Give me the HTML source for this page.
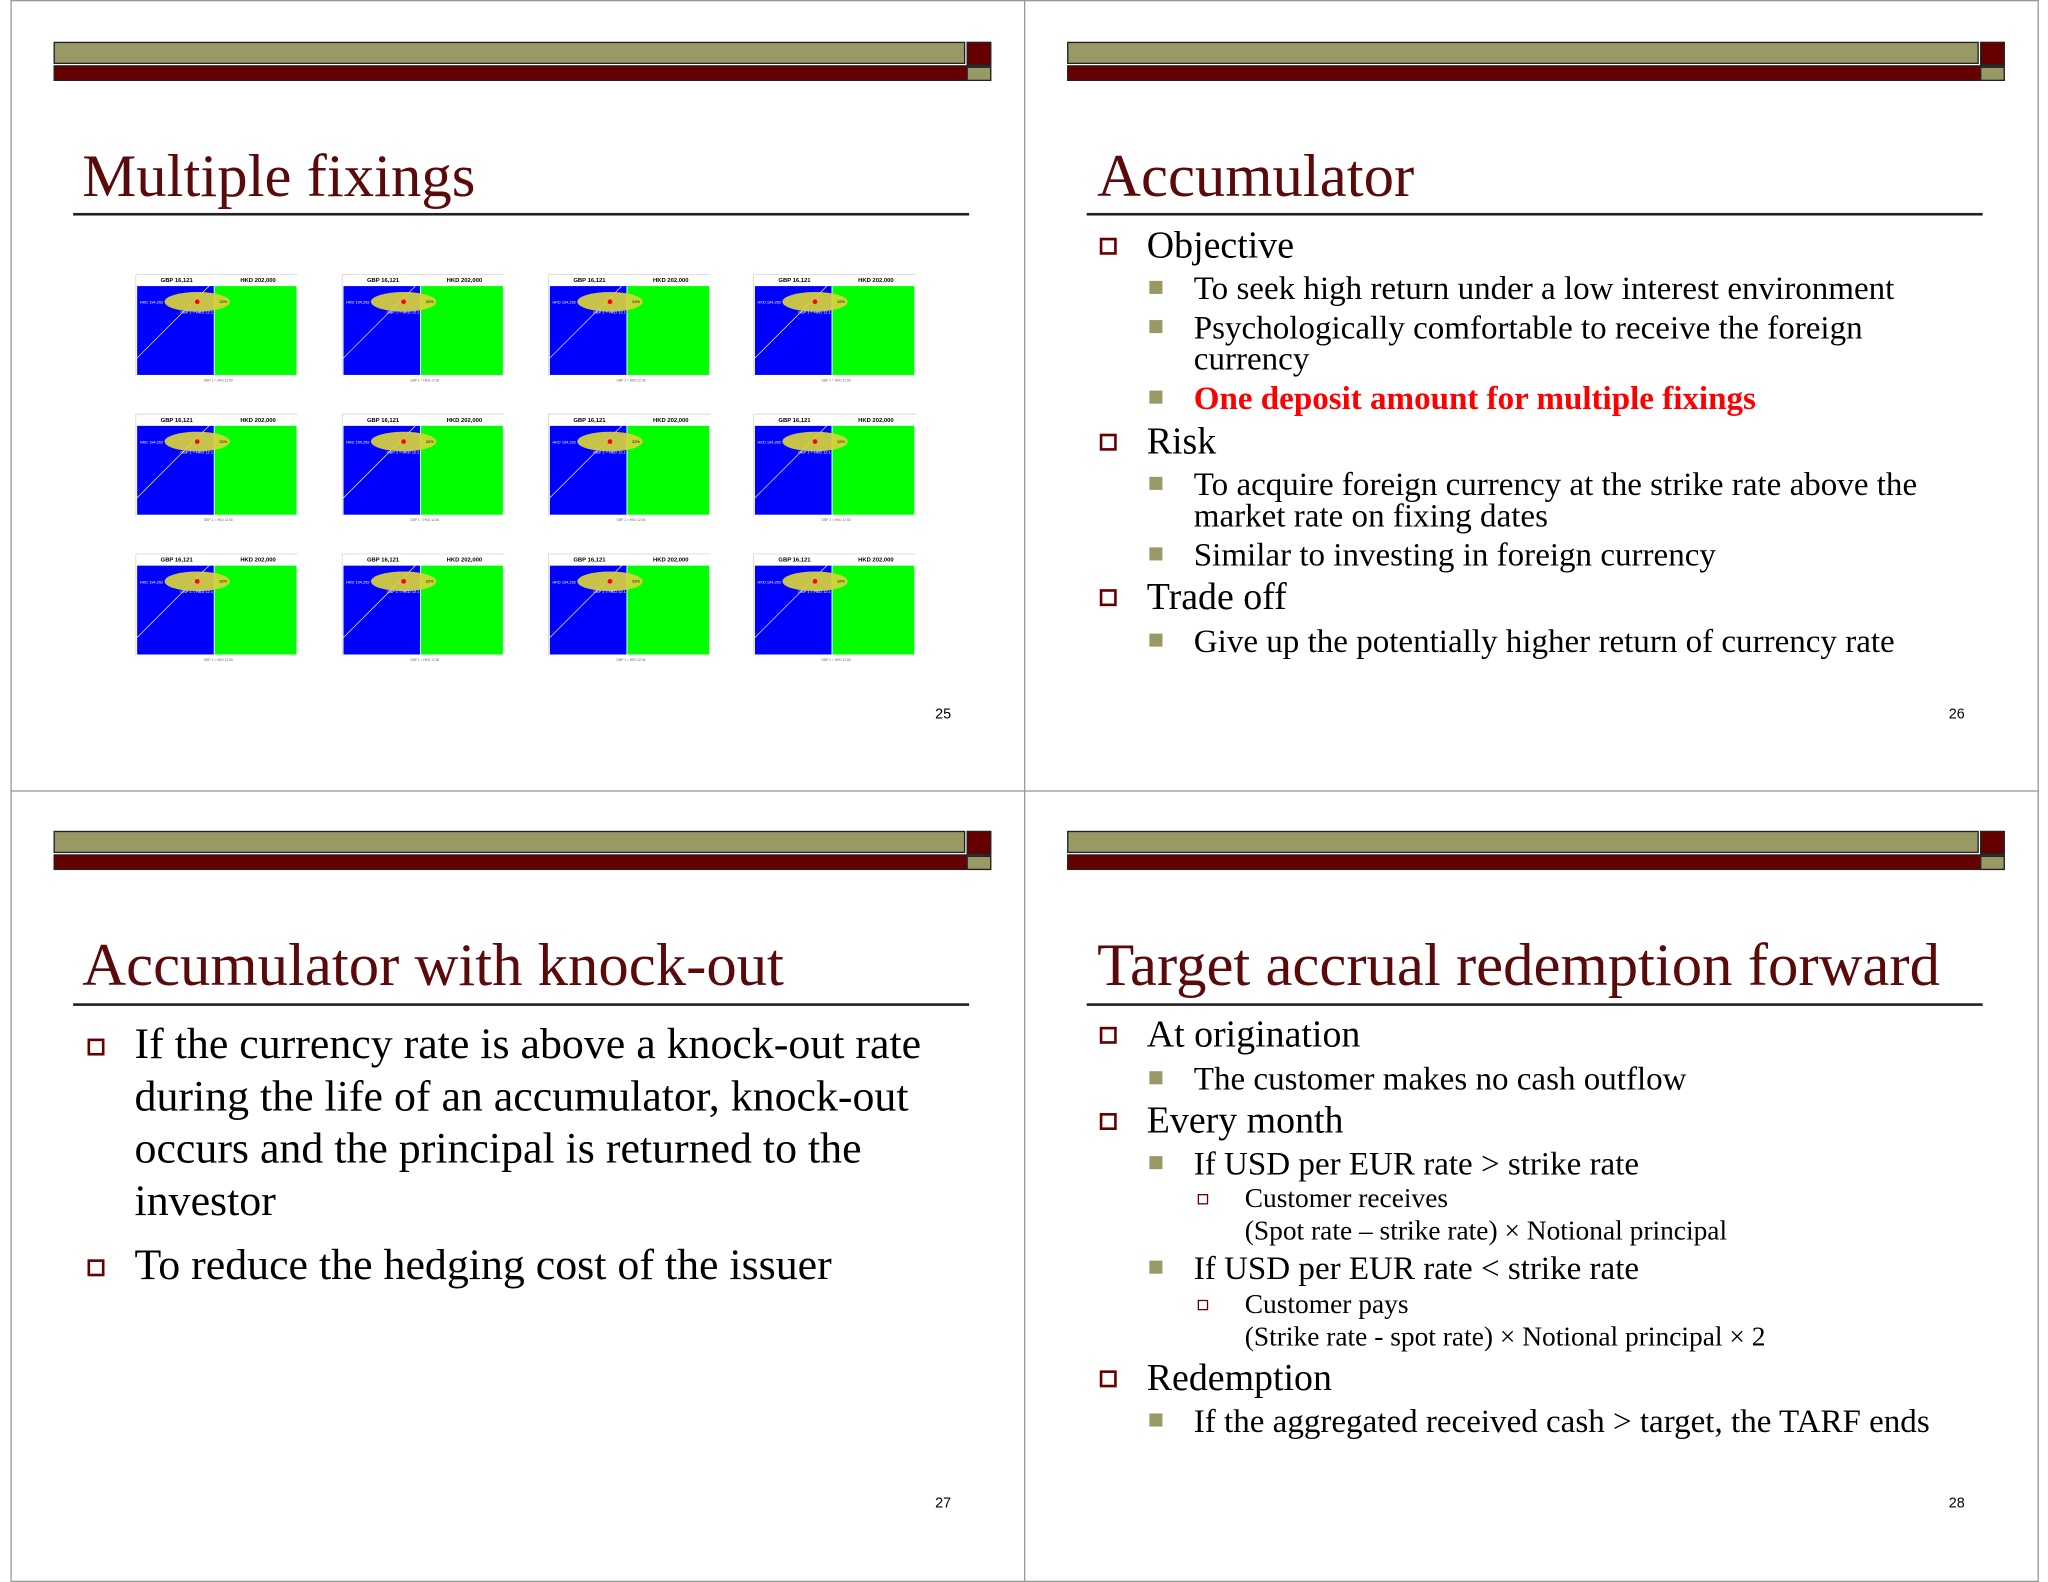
<!DOCTYPE html>
<html><head><meta charset="utf-8"><style>
html,body{margin:0;padding:0;background:#fff;}
body{width:2048px;height:1582px;overflow:hidden;position:relative;}
#st{position:absolute;left:0;top:0;width:1568px;height:1211px;transform-origin:0 0;transform:scale(1.30612,1.30636);font-family:"Liberation Serif",serif;color:#000;}
.a{position:absolute;white-space:nowrap;line-height:1;}
.ln{position:absolute;background:#999;}
.hb{position:absolute;width:718px;height:30px;}
.hb .o{position:absolute;left:0;top:0;width:698px;height:17px;background:#999966;border:1px solid #222;box-sizing:border-box;}
.hb .r{position:absolute;left:0;top:18px;width:718px;height:12px;background:#660000;border:1px solid #222;box-sizing:border-box;}
.hb .rs{position:absolute;left:699px;top:0;width:19px;height:18px;background:#660000;border:1px solid #222;box-sizing:border-box;}
.hb .os{position:absolute;left:699px;top:19px;width:19px;height:11px;background:#999966;border:1px solid #222;box-sizing:border-box;}
.t{position:absolute;font-size:46.5px;color:#5a0a0a;line-height:1;white-space:nowrap;}
.ul{position:absolute;height:1.5px;background:#222;width:686px;}
.b1{position:absolute;width:9px;height:9px;border:2px solid #660000;background:#fff;}
.b2{position:absolute;width:10px;height:10px;background:#999966;}
.b3{position:absolute;width:6px;height:6px;border:1.5px solid #660000;background:#fff;}
.f29{font-size:29px;margin-top:3px;}.f24{font-size:25.3px;margin-top:3px;}.f32{font-size:33.6px;margin-top:1px;}.f20{font-size:21px;margin-top:2px;}
.pn{position:absolute;font-family:"Liberation Sans",sans-serif;font-size:11px;}
svg.c{position:absolute;width:130px;height:95px;}
</style></head><body><div id="st">
<div class="ln" style="left:8px;top:0;width:1553px;height:1px"></div>
<div class="ln" style="left:8px;top:605px;width:1553px;height:1px"></div>
<div class="ln" style="left:8px;top:1210px;width:1553px;height:1px"></div>
<div class="ln" style="left:8px;top:0;width:1px;height:1211px"></div>
<div class="ln" style="left:784px;top:0;width:1px;height:1211px"></div>
<div class="ln" style="left:1560px;top:0;width:1px;height:1211px"></div>

<div class="hb" style="left:41px;top:32px"><div class="o"></div><div class="r"></div><div class="rs"></div><div class="os"></div></div>
<div class="hb" style="left:817px;top:32px"><div class="o"></div><div class="r"></div><div class="rs"></div><div class="os"></div></div>
<div class="hb" style="left:41px;top:636px"><div class="o"></div><div class="r"></div><div class="rs"></div><div class="os"></div></div>
<div class="hb" style="left:817px;top:636px"><div class="o"></div><div class="r"></div><div class="rs"></div><div class="os"></div></div>

<div class="t" style="left:63px;top:113px">Multiple fixings</div>
<div class="ul" style="left:56px;top:163px"></div>
<div class="pn" style="left:716px;top:541px">25</div>

<svg class="c" style="left:98px;top:208px" viewBox="0 0 130 95"><line x1="6" y1="2" x2="130" y2="2" stroke="#ccc" stroke-width=".5"/><line x1="6" y1="2" x2="6" y2="80" stroke="#ccc" stroke-width=".5"/><text x="25" y="8" font-size="4.5" font-family="Liberation Sans" font-weight="bold">GBP 16,121</text><text x="86" y="8" font-size="4.5" font-family="Liberation Sans" font-weight="bold">HKD 202,000</text><rect x="7" y="11" width="59" height="68" fill="#0000ff"/><rect x="66" y="11" width="63" height="68" fill="#00ff00"/><line x1="66" y1="11" x2="66" y2="79" stroke="#fff" stroke-width=".7"/><line x1="7" y1="66" x2="62" y2="11" stroke="#fff" stroke-width=".5"/><ellipse cx="53" cy="23" rx="25" ry="7.5" fill="#d8d23a" opacity=".92"/><circle cx="53" cy="23" r="1.8" fill="#f00"/><text x="9" y="24.5" font-size="3" fill="#fff" font-family="Liberation Sans">HKD 194,262</text><text x="70" y="24" font-size="3" font-family="Liberation Sans">32%</text><text x="40" y="32" font-size="3" fill="#fff" font-family="Liberation Sans">GBP 1 = HKD 12.1</text><text x="58" y="84" font-size="2.5" fill="#666" font-family="Liberation Sans">GBP 1 = HKD 12.50</text></svg>
<svg class="c" style="left:256px;top:208px" viewBox="0 0 130 95"><line x1="6" y1="2" x2="130" y2="2" stroke="#ccc" stroke-width=".5"/><line x1="6" y1="2" x2="6" y2="80" stroke="#ccc" stroke-width=".5"/><text x="25" y="8" font-size="4.5" font-family="Liberation Sans" font-weight="bold">GBP 16,121</text><text x="86" y="8" font-size="4.5" font-family="Liberation Sans" font-weight="bold">HKD 202,000</text><rect x="7" y="11" width="59" height="68" fill="#0000ff"/><rect x="66" y="11" width="63" height="68" fill="#00ff00"/><line x1="66" y1="11" x2="66" y2="79" stroke="#fff" stroke-width=".7"/><line x1="7" y1="66" x2="62" y2="11" stroke="#fff" stroke-width=".5"/><ellipse cx="53" cy="23" rx="25" ry="7.5" fill="#d8d23a" opacity=".92"/><circle cx="53" cy="23" r="1.8" fill="#f00"/><text x="9" y="24.5" font-size="3" fill="#fff" font-family="Liberation Sans">HKD 194,262</text><text x="70" y="24" font-size="3" font-family="Liberation Sans">32%</text><text x="40" y="32" font-size="3" fill="#fff" font-family="Liberation Sans">GBP 1 = HKD 12.1</text><text x="58" y="84" font-size="2.5" fill="#666" font-family="Liberation Sans">GBP 1 = HKD 12.50</text></svg>
<svg class="c" style="left:414px;top:208px" viewBox="0 0 130 95"><line x1="6" y1="2" x2="130" y2="2" stroke="#ccc" stroke-width=".5"/><line x1="6" y1="2" x2="6" y2="80" stroke="#ccc" stroke-width=".5"/><text x="25" y="8" font-size="4.5" font-family="Liberation Sans" font-weight="bold">GBP 16,121</text><text x="86" y="8" font-size="4.5" font-family="Liberation Sans" font-weight="bold">HKD 202,000</text><rect x="7" y="11" width="59" height="68" fill="#0000ff"/><rect x="66" y="11" width="63" height="68" fill="#00ff00"/><line x1="66" y1="11" x2="66" y2="79" stroke="#fff" stroke-width=".7"/><line x1="7" y1="66" x2="62" y2="11" stroke="#fff" stroke-width=".5"/><ellipse cx="53" cy="23" rx="25" ry="7.5" fill="#d8d23a" opacity=".92"/><circle cx="53" cy="23" r="1.8" fill="#f00"/><text x="9" y="24.5" font-size="3" fill="#fff" font-family="Liberation Sans">HKD 194,262</text><text x="70" y="24" font-size="3" font-family="Liberation Sans">32%</text><text x="40" y="32" font-size="3" fill="#fff" font-family="Liberation Sans">GBP 1 = HKD 12.1</text><text x="58" y="84" font-size="2.5" fill="#666" font-family="Liberation Sans">GBP 1 = HKD 12.50</text></svg>
<svg class="c" style="left:571px;top:208px" viewBox="0 0 130 95"><line x1="6" y1="2" x2="130" y2="2" stroke="#ccc" stroke-width=".5"/><line x1="6" y1="2" x2="6" y2="80" stroke="#ccc" stroke-width=".5"/><text x="25" y="8" font-size="4.5" font-family="Liberation Sans" font-weight="bold">GBP 16,121</text><text x="86" y="8" font-size="4.5" font-family="Liberation Sans" font-weight="bold">HKD 202,000</text><rect x="7" y="11" width="59" height="68" fill="#0000ff"/><rect x="66" y="11" width="63" height="68" fill="#00ff00"/><line x1="66" y1="11" x2="66" y2="79" stroke="#fff" stroke-width=".7"/><line x1="7" y1="66" x2="62" y2="11" stroke="#fff" stroke-width=".5"/><ellipse cx="53" cy="23" rx="25" ry="7.5" fill="#d8d23a" opacity=".92"/><circle cx="53" cy="23" r="1.8" fill="#f00"/><text x="9" y="24.5" font-size="3" fill="#fff" font-family="Liberation Sans">HKD 194,262</text><text x="70" y="24" font-size="3" font-family="Liberation Sans">32%</text><text x="40" y="32" font-size="3" fill="#fff" font-family="Liberation Sans">GBP 1 = HKD 12.1</text><text x="58" y="84" font-size="2.5" fill="#666" font-family="Liberation Sans">GBP 1 = HKD 12.50</text></svg>

<svg class="c" style="left:98px;top:315px" viewBox="0 0 130 95"><line x1="6" y1="2" x2="130" y2="2" stroke="#ccc" stroke-width=".5"/><line x1="6" y1="2" x2="6" y2="80" stroke="#ccc" stroke-width=".5"/><text x="25" y="8" font-size="4.5" font-family="Liberation Sans" font-weight="bold">GBP 16,121</text><text x="86" y="8" font-size="4.5" font-family="Liberation Sans" font-weight="bold">HKD 202,000</text><rect x="7" y="11" width="59" height="68" fill="#0000ff"/><rect x="66" y="11" width="63" height="68" fill="#00ff00"/><line x1="66" y1="11" x2="66" y2="79" stroke="#fff" stroke-width=".7"/><line x1="7" y1="66" x2="62" y2="11" stroke="#fff" stroke-width=".5"/><ellipse cx="53" cy="23" rx="25" ry="7.5" fill="#d8d23a" opacity=".92"/><circle cx="53" cy="23" r="1.8" fill="#f00"/><text x="9" y="24.5" font-size="3" fill="#fff" font-family="Liberation Sans">HKD 194,262</text><text x="70" y="24" font-size="3" font-family="Liberation Sans">32%</text><text x="40" y="32" font-size="3" fill="#fff" font-family="Liberation Sans">GBP 1 = HKD 12.1</text><text x="58" y="84" font-size="2.5" fill="#666" font-family="Liberation Sans">GBP 1 = HKD 12.50</text></svg>
<svg class="c" style="left:256px;top:315px" viewBox="0 0 130 95"><line x1="6" y1="2" x2="130" y2="2" stroke="#ccc" stroke-width=".5"/><line x1="6" y1="2" x2="6" y2="80" stroke="#ccc" stroke-width=".5"/><text x="25" y="8" font-size="4.5" font-family="Liberation Sans" font-weight="bold">GBP 16,121</text><text x="86" y="8" font-size="4.5" font-family="Liberation Sans" font-weight="bold">HKD 202,000</text><rect x="7" y="11" width="59" height="68" fill="#0000ff"/><rect x="66" y="11" width="63" height="68" fill="#00ff00"/><line x1="66" y1="11" x2="66" y2="79" stroke="#fff" stroke-width=".7"/><line x1="7" y1="66" x2="62" y2="11" stroke="#fff" stroke-width=".5"/><ellipse cx="53" cy="23" rx="25" ry="7.5" fill="#d8d23a" opacity=".92"/><circle cx="53" cy="23" r="1.8" fill="#f00"/><text x="9" y="24.5" font-size="3" fill="#fff" font-family="Liberation Sans">HKD 194,262</text><text x="70" y="24" font-size="3" font-family="Liberation Sans">32%</text><text x="40" y="32" font-size="3" fill="#fff" font-family="Liberation Sans">GBP 1 = HKD 12.1</text><text x="58" y="84" font-size="2.5" fill="#666" font-family="Liberation Sans">GBP 1 = HKD 12.50</text></svg>
<svg class="c" style="left:414px;top:315px" viewBox="0 0 130 95"><line x1="6" y1="2" x2="130" y2="2" stroke="#ccc" stroke-width=".5"/><line x1="6" y1="2" x2="6" y2="80" stroke="#ccc" stroke-width=".5"/><text x="25" y="8" font-size="4.5" font-family="Liberation Sans" font-weight="bold">GBP 16,121</text><text x="86" y="8" font-size="4.5" font-family="Liberation Sans" font-weight="bold">HKD 202,000</text><rect x="7" y="11" width="59" height="68" fill="#0000ff"/><rect x="66" y="11" width="63" height="68" fill="#00ff00"/><line x1="66" y1="11" x2="66" y2="79" stroke="#fff" stroke-width=".7"/><line x1="7" y1="66" x2="62" y2="11" stroke="#fff" stroke-width=".5"/><ellipse cx="53" cy="23" rx="25" ry="7.5" fill="#d8d23a" opacity=".92"/><circle cx="53" cy="23" r="1.8" fill="#f00"/><text x="9" y="24.5" font-size="3" fill="#fff" font-family="Liberation Sans">HKD 194,262</text><text x="70" y="24" font-size="3" font-family="Liberation Sans">32%</text><text x="40" y="32" font-size="3" fill="#fff" font-family="Liberation Sans">GBP 1 = HKD 12.1</text><text x="58" y="84" font-size="2.5" fill="#666" font-family="Liberation Sans">GBP 1 = HKD 12.50</text></svg>
<svg class="c" style="left:571px;top:315px" viewBox="0 0 130 95"><line x1="6" y1="2" x2="130" y2="2" stroke="#ccc" stroke-width=".5"/><line x1="6" y1="2" x2="6" y2="80" stroke="#ccc" stroke-width=".5"/><text x="25" y="8" font-size="4.5" font-family="Liberation Sans" font-weight="bold">GBP 16,121</text><text x="86" y="8" font-size="4.5" font-family="Liberation Sans" font-weight="bold">HKD 202,000</text><rect x="7" y="11" width="59" height="68" fill="#0000ff"/><rect x="66" y="11" width="63" height="68" fill="#00ff00"/><line x1="66" y1="11" x2="66" y2="79" stroke="#fff" stroke-width=".7"/><line x1="7" y1="66" x2="62" y2="11" stroke="#fff" stroke-width=".5"/><ellipse cx="53" cy="23" rx="25" ry="7.5" fill="#d8d23a" opacity=".92"/><circle cx="53" cy="23" r="1.8" fill="#f00"/><text x="9" y="24.5" font-size="3" fill="#fff" font-family="Liberation Sans">HKD 194,262</text><text x="70" y="24" font-size="3" font-family="Liberation Sans">32%</text><text x="40" y="32" font-size="3" fill="#fff" font-family="Liberation Sans">GBP 1 = HKD 12.1</text><text x="58" y="84" font-size="2.5" fill="#666" font-family="Liberation Sans">GBP 1 = HKD 12.50</text></svg>

<svg class="c" style="left:98px;top:422px" viewBox="0 0 130 95"><line x1="6" y1="2" x2="130" y2="2" stroke="#ccc" stroke-width=".5"/><line x1="6" y1="2" x2="6" y2="80" stroke="#ccc" stroke-width=".5"/><text x="25" y="8" font-size="4.5" font-family="Liberation Sans" font-weight="bold">GBP 16,121</text><text x="86" y="8" font-size="4.5" font-family="Liberation Sans" font-weight="bold">HKD 202,000</text><rect x="7" y="11" width="59" height="68" fill="#0000ff"/><rect x="66" y="11" width="63" height="68" fill="#00ff00"/><line x1="66" y1="11" x2="66" y2="79" stroke="#fff" stroke-width=".7"/><line x1="7" y1="66" x2="62" y2="11" stroke="#fff" stroke-width=".5"/><ellipse cx="53" cy="23" rx="25" ry="7.5" fill="#d8d23a" opacity=".92"/><circle cx="53" cy="23" r="1.8" fill="#f00"/><text x="9" y="24.5" font-size="3" fill="#fff" font-family="Liberation Sans">HKD 194,262</text><text x="70" y="24" font-size="3" font-family="Liberation Sans">32%</text><text x="40" y="32" font-size="3" fill="#fff" font-family="Liberation Sans">GBP 1 = HKD 12.1</text><text x="58" y="84" font-size="2.5" fill="#666" font-family="Liberation Sans">GBP 1 = HKD 12.50</text></svg>
<svg class="c" style="left:256px;top:422px" viewBox="0 0 130 95"><line x1="6" y1="2" x2="130" y2="2" stroke="#ccc" stroke-width=".5"/><line x1="6" y1="2" x2="6" y2="80" stroke="#ccc" stroke-width=".5"/><text x="25" y="8" font-size="4.5" font-family="Liberation Sans" font-weight="bold">GBP 16,121</text><text x="86" y="8" font-size="4.5" font-family="Liberation Sans" font-weight="bold">HKD 202,000</text><rect x="7" y="11" width="59" height="68" fill="#0000ff"/><rect x="66" y="11" width="63" height="68" fill="#00ff00"/><line x1="66" y1="11" x2="66" y2="79" stroke="#fff" stroke-width=".7"/><line x1="7" y1="66" x2="62" y2="11" stroke="#fff" stroke-width=".5"/><ellipse cx="53" cy="23" rx="25" ry="7.5" fill="#d8d23a" opacity=".92"/><circle cx="53" cy="23" r="1.8" fill="#f00"/><text x="9" y="24.5" font-size="3" fill="#fff" font-family="Liberation Sans">HKD 194,262</text><text x="70" y="24" font-size="3" font-family="Liberation Sans">32%</text><text x="40" y="32" font-size="3" fill="#fff" font-family="Liberation Sans">GBP 1 = HKD 12.1</text><text x="58" y="84" font-size="2.5" fill="#666" font-family="Liberation Sans">GBP 1 = HKD 12.50</text></svg>
<svg class="c" style="left:414px;top:422px" viewBox="0 0 130 95"><line x1="6" y1="2" x2="130" y2="2" stroke="#ccc" stroke-width=".5"/><line x1="6" y1="2" x2="6" y2="80" stroke="#ccc" stroke-width=".5"/><text x="25" y="8" font-size="4.5" font-family="Liberation Sans" font-weight="bold">GBP 16,121</text><text x="86" y="8" font-size="4.5" font-family="Liberation Sans" font-weight="bold">HKD 202,000</text><rect x="7" y="11" width="59" height="68" fill="#0000ff"/><rect x="66" y="11" width="63" height="68" fill="#00ff00"/><line x1="66" y1="11" x2="66" y2="79" stroke="#fff" stroke-width=".7"/><line x1="7" y1="66" x2="62" y2="11" stroke="#fff" stroke-width=".5"/><ellipse cx="53" cy="23" rx="25" ry="7.5" fill="#d8d23a" opacity=".92"/><circle cx="53" cy="23" r="1.8" fill="#f00"/><text x="9" y="24.5" font-size="3" fill="#fff" font-family="Liberation Sans">HKD 194,262</text><text x="70" y="24" font-size="3" font-family="Liberation Sans">32%</text><text x="40" y="32" font-size="3" fill="#fff" font-family="Liberation Sans">GBP 1 = HKD 12.1</text><text x="58" y="84" font-size="2.5" fill="#666" font-family="Liberation Sans">GBP 1 = HKD 12.50</text></svg>
<svg class="c" style="left:571px;top:422px" viewBox="0 0 130 95"><line x1="6" y1="2" x2="130" y2="2" stroke="#ccc" stroke-width=".5"/><line x1="6" y1="2" x2="6" y2="80" stroke="#ccc" stroke-width=".5"/><text x="25" y="8" font-size="4.5" font-family="Liberation Sans" font-weight="bold">GBP 16,121</text><text x="86" y="8" font-size="4.5" font-family="Liberation Sans" font-weight="bold">HKD 202,000</text><rect x="7" y="11" width="59" height="68" fill="#0000ff"/><rect x="66" y="11" width="63" height="68" fill="#00ff00"/><line x1="66" y1="11" x2="66" y2="79" stroke="#fff" stroke-width=".7"/><line x1="7" y1="66" x2="62" y2="11" stroke="#fff" stroke-width=".5"/><ellipse cx="53" cy="23" rx="25" ry="7.5" fill="#d8d23a" opacity=".92"/><circle cx="53" cy="23" r="1.8" fill="#f00"/><text x="9" y="24.5" font-size="3" fill="#fff" font-family="Liberation Sans">HKD 194,262</text><text x="70" y="24" font-size="3" font-family="Liberation Sans">32%</text><text x="40" y="32" font-size="3" fill="#fff" font-family="Liberation Sans">GBP 1 = HKD 12.1</text><text x="58" y="84" font-size="2.5" fill="#666" font-family="Liberation Sans">GBP 1 = HKD 12.50</text></svg>

<!-- slide 2 -->
<div class="t" style="left:840px;top:113px">Accumulator</div>
<div class="ul" style="left:832px;top:163px"></div>
<div class="b1" style="left:842px;top:182px"></div><div class="a f29" style="left:878px;top:171px">Objective</div>
<div class="b2" style="left:880px;top:215px"></div><div class="a f24" style="left:914px;top:206px">To seek high return under a low interest environment</div>
<div class="b2" style="left:880px;top:245px"></div><div class="a f24" style="left:914px;top:236px">Psychologically comfortable to receive the foreign</div>
<div class="a f24" style="left:914px;top:260px">currency</div>
<div class="b2" style="left:880px;top:299px"></div><div class="a f24" style="left:914px;top:290px;color:#f00;font-weight:bold">One deposit amount for multiple fixings</div>
<div class="b1" style="left:842px;top:332px"></div><div class="a f29" style="left:878px;top:321px">Risk</div>
<div class="b2" style="left:880px;top:365px"></div><div class="a f24" style="left:914px;top:356px">To acquire foreign currency at the strike rate above the</div>
<div class="a f24" style="left:914px;top:380px">market rate on fixing dates</div>
<div class="b2" style="left:880px;top:419px"></div><div class="a f24" style="left:914px;top:410px">Similar to investing in foreign currency</div>
<div class="b1" style="left:842px;top:451px"></div><div class="a f29" style="left:878px;top:440px">Trade off</div>
<div class="b2" style="left:880px;top:485px"></div><div class="a f24" style="left:914px;top:476px">Give up the potentially higher return of currency rate</div>
<div class="pn" style="left:1492px;top:541px">26</div>

<!-- slide 3 -->
<div class="t" style="left:63px;top:717px">Accumulator with knock-out</div>
<div class="ul" style="left:56px;top:768px"></div>
<div class="b1" style="left:67px;top:795px"></div>
<div class="a f32" style="left:103px;top:782px">If the currency rate is above a knock-out rate</div>
<div class="a f32" style="left:103px;top:822px">during the life of an accumulator, knock-out</div>
<div class="a f32" style="left:103px;top:862px">occurs and the principal is returned to the</div>
<div class="a f32" style="left:103px;top:902px">investor</div>
<div class="b1" style="left:67px;top:964px"></div>
<div class="a f32" style="left:103px;top:951px">To reduce the hedging cost of the issuer</div>
<div class="pn" style="left:716px;top:1145px">27</div>

<!-- slide 4 -->
<div class="t" style="left:840px;top:717px">Target accrual redemption forward</div>
<div class="ul" style="left:832px;top:768px"></div>
<div class="b1" style="left:842px;top:786px"></div><div class="a f29" style="left:878px;top:775px">At origination</div>
<div class="b2" style="left:880px;top:820px"></div><div class="a f24" style="left:914px;top:811px">The customer makes no cash outflow</div>
<div class="b1" style="left:842px;top:852px"></div><div class="a f29" style="left:878px;top:841px">Every month</div>
<div class="b2" style="left:880px;top:885px"></div><div class="a f24" style="left:914px;top:876px">If USD per EUR rate &gt; strike rate</div>
<div class="b3" style="left:917px;top:914px"></div><div class="a f20" style="left:953px;top:905px">Customer receives</div>
<div class="a f20" style="left:953px;top:930px">(Spot rate – strike rate) × Notional principal</div>
<div class="b2" style="left:880px;top:965px"></div><div class="a f24" style="left:914px;top:956px">If USD per EUR rate &lt; strike rate</div>
<div class="b3" style="left:917px;top:995px"></div><div class="a f20" style="left:953px;top:986px">Customer pays</div>
<div class="a f20" style="left:953px;top:1011px">(Strike rate - spot rate) × Notional principal × 2</div>
<div class="b1" style="left:842px;top:1049px"></div><div class="a f29" style="left:878px;top:1038px">Redemption</div>
<div class="b2" style="left:880px;top:1082px"></div><div class="a f24" style="left:914px;top:1073px">If the aggregated received cash &gt; target, the TARF ends</div>
<div class="pn" style="left:1492px;top:1145px">28</div>
</div></body></html>
